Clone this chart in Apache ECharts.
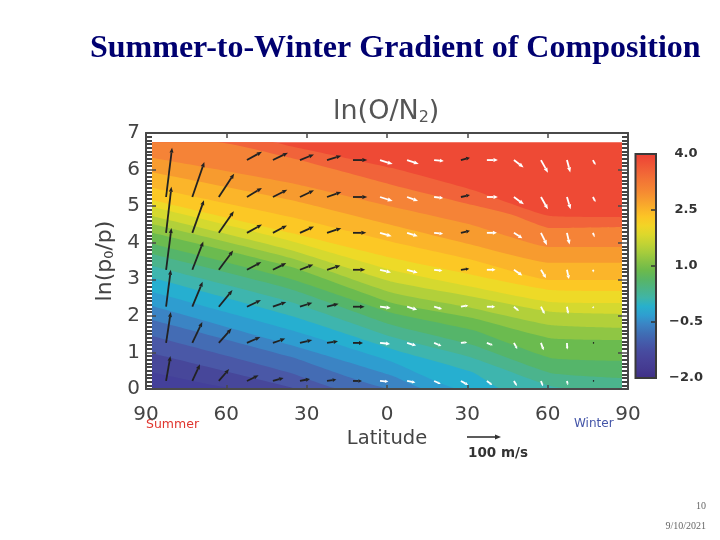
<!DOCTYPE html>
<html><head><meta charset="utf-8">
<style>html,body{margin:0;padding:0;background:#fff}#c{width:720px;height:540px}</style>
<script src="https://cdn.jsdelivr.net/npm/echarts@6/dist/echarts.min.js"></script>
</head><body><div id="c"></div>
<script>
// Filled-contour boundaries: [latitude (summer negative), ln(p0/p)], top band to lowest band
const c00=[[-88,6.75],[-42.6,6.75],[-36,6.64],[2,6.04],[32,5.44],[61,4.73],[88,4.70]];
const c01=[[-88,6.75],[-63.5,6.75],[-36,6.32],[2,5.58],[32,5.03],[47,4.76],[61,4.40],[88,4.43]];
const c02=[[-88,6.32],[-36,5.63],[2,4.98],[32,4.48],[61,3.88],[88,3.88]];
const c03=[[-88,5.93],[-36,5.17],[2,4.48],[32,3.94],[61,3.45],[88,3.45]];
const c04=[[-88,5.50],[-36,4.70],[2,4.02],[32,3.53],[61,2.98],[88,2.98]];
const c05=[[-88,5.17],[-36,4.27],[2,3.58],[32,3.12],[61,2.71],[88,2.68]];
const c06=[[-88,4.98],[-36,4.05],[2,3.25],[32,2.79],[61,2.38],[88,2.35]];
const c07=[[-88,4.73],[-36,3.80],[2,2.93],[32,2.52],[61,2.11],[88,2.05]];
const c08=[[-88,4.51],[-36,3.58],[2,2.63],[32,2.21],[61,1.75],[88,1.67]];
const c09=[[-88,4.27],[-36,3.34],[2,2.35],[32,1.94],[61,1.39],[88,1.34]];
const c10=[[-88,3.97],[-36,3.01],[2,2.08],[32,1.61],[61,0.85],[88,0.77]];
const c11=[[-88,3.69],[-36,2.73],[2,1.75],[32,1.20],[61,0.44],[88,0.30]];
const c12=[[-88,3.36],[-36,2.38],[2,1.42],[32,0.85],[61,0.08],[70,0],[88,0]];
const c13=[[-88,3.04],[-36,2.00],[2,1.09],[32,0.46],[43,0],[88,0]];
const c14=[[-88,2.65],[-36,1.61],[2,0.74],[27,0],[88,0]];
const c15=[[-88,2.27],[-36,1.20],[2,0.36],[14,0],[88,0]];
const c16=[[-88,1.89],[-36,0.88],[2,0],[88,0]];
const c17=[[-88,1.45],[-36,0.44],[-17.5,0],[88,0]];
const c18=[[-88,0.98],[-36,0.05],[-34,0],[88,0]];
const c19=[[-88,0.46],[-55,0],[88,0]];
const contours=[c00,c01,c02,c03,c04,c05,c06,c07,c08,c09,c10,c11,c12,c13,c14,c15,c16,c17,c18,c19];
const bandColors=['#ee4a35','#f1633a','#f58337','#f79b2f','#fbb52a','#fcc825','#eeda27','#d5d92f','#b2d03a','#8fc644','#6bbb4f','#55b56a','#4bb48d','#3eb5ae','#26afd0','#2e9dd0','#3b84c4','#446cb4','#4a58a7','#47479a','#44409a'];
const colorbarColors=['#ed4035','#ef5236','#f16437','#f37635','#f58633','#f79a2f','#fab02a','#fcc525','#f2d426','#dcd82c','#c2d334','#a6cc3c','#88c244','#6cba4c','#58b566','#4cb485','#40b5a5','#28b0cc','#2f9ed0','#3b84c4','#3f6fb5','#445cab','#474ca0','#474298','#443a90','#3f2f86'];

// Wind vectors: tail latitude per column, tail ln(p0/p) per row; u,v in m/s-scale units
const tailLat=[-82.5,-72.7,-62.8,-52.3,-42.6,-32.5,-22.4,-12.7,-2.6,7.5,17.6,27.6,37.3,47.4,57.5,67.2,76.9];
const tailLn=[6.26,5.25,4.27,3.26,2.25,1.26,0.22];
const arrowU=[
[null,18,16,16,14,14,13],[null,36,35,33,31,30,23],[null,46,45,43,41,38,31],[45,45,45,43,42,40,35],
[45,43,42,40,40,37,32],[42,42,42,40,37,37,30],[43,43,43,40,35,33,28],[43,43,40,37,35,30,27],
[38,38,35,33,32,30,25],[35,33,32,32,30,27,25],[29,27,27,25,24,22,20],[27,27,27,25,22,19,22],
[33,33,30,26,25,18,16],[29,30,25,25,15,10,9],[21,21,18,15,11,8,6],[10,11,8,6,4,1,3],[8,8,5,3,3,5,5]];
const arrowV=[
[null,148,138,125,111,93,75],[null,105,98,85,75,63,50],[null,70,65,58,50,43,36],[25,27,25,23,20,18,17],
[22,22,22,20,14,13,9],[17,20,19,16,12,9,6],[13,15,14,13,9,5,4],[0,0,0,0,0,0,0],
[-12,-12,-10,-8,-4,-3,-2],[-12,-12,-10,-9,-9,-8,-5],[-3,-3,-3,-3,-7,-9,-9],[7,6,6,3,4,2,-12],
[0,0,0,0,0,-7,-12],[-22,-22,-16,-17,-13,-18,-15],[-38,-37,-37,-25,-22,-22,-16],[-37,-37,-35,-28,-22,-20,-13],[-15,-15,-13,-8,-5,0,0]];
// per column, top row to bottom row: k = dark arrow, w = white arrow
const arrowShade=['kkkkkkk','kkkkkkk','kkkkkkk','kkkkkkk','kkkkkkk','kkkkkkk','kkkkkkk','kkkkkkk','wwwwwww','wwwwwww','wwwwwww','kkkkwww','wwwwwww','wwwwwww','wwwwwww','wwwwwww','wwwwwkk'];

const titleMain='Summer-to-Winter Gradient of Composition';

const PXPERUNIT=1/3; // drawn length of one vector unit
const arrowData=[];
tailLat.forEach((lat,i)=>tailLn.forEach((ln,j)=>{
  if(arrowU[i][j]!==null)arrowData.push([lat,ln,arrowU[i][j],arrowV[i][j],arrowShade[i][j]==='w'?1:0]);
}));

const chart=echarts.init(document.getElementById('c'),null,{renderer:'canvas'});
const areaSeries=[{type:'line',data:[[-87.75,6.75],[87.75,6.75]],symbol:'none',lineStyle:{opacity:0},areaStyle:{color:bandColors[0],opacity:1,origin:'start'},z:2,silent:true,animation:false}];
contours.forEach((c,i)=>areaSeries.push({type:'line',data:c.map(p=>[Math.max(-87.75,Math.min(87.75,p[0])),p[1]]),symbol:'none',smooth:0.15,lineStyle:{opacity:0},areaStyle:{color:bandColors[i+1],opacity:1,origin:'start'},z:2,silent:true,animation:false}));

const axisCol='#4a4a4a';
const labelFont='DejaVu Sans';
const option={
 animation:false,backgroundColor:'#fff',
 grid:[{left:146,top:133,width:482,height:256},{left:635.5,top:154,width:20.5,height:224,show:true,borderColor:'#3a3a3a',borderWidth:2,backgroundColor:'transparent',z:10}],
 xAxis:[
  {type:'value',gridIndex:0,min:-90,max:90,interval:30,position:'bottom',z:6,
   axisLine:{show:true,onZero:false,lineStyle:{color:axisCol,width:2}},axisTick:{show:true,inside:true,length:4,lineStyle:{color:axisCol,width:1.5}},splitLine:{show:false},
   axisLabel:{margin:16,fontFamily:labelFont,fontSize:20,color:'#444',formatter:v=>String(Math.abs(v))},
   name:'Latitude',nameLocation:'middle',nameGap:40,nameTextStyle:{fontFamily:labelFont,fontSize:19.5,color:'#444'}},
  {type:'value',gridIndex:0,min:-90,max:90,interval:30,position:'top',z:6,
   axisLine:{show:true,onZero:false,lineStyle:{color:axisCol,width:2}},axisTick:{show:true,inside:true,length:5,lineStyle:{color:axisCol,width:1.5}},axisLabel:{show:false},splitLine:{show:false}},
  {type:'value',gridIndex:1,min:0,max:1,show:false}],
 yAxis:[
  {type:'value',gridIndex:0,min:0,max:7,interval:1,position:'left',z:6,
   axisLine:{show:true,onZero:false,lineStyle:{color:axisCol,width:2}},axisTick:{show:true,inside:true,length:10,lineStyle:{color:axisCol,width:1.5}},minorTick:{show:true,splitNumber:10,length:6,lineStyle:{color:'#444',width:2}},splitLine:{show:false},
   axisLabel:{margin:6,fontFamily:labelFont,fontSize:20,color:'#444'},
   name:'ln(p{s|0}/p)',nameLocation:'middle',nameRotate:90,nameGap:30,nameTextStyle:{fontFamily:labelFont,fontSize:22,color:'#444',rich:{s:{fontFamily:labelFont,fontSize:13,color:'#444',padding:[9,0,0,0]}}}},
  {type:'value',gridIndex:0,min:0,max:7,interval:1,position:'right',z:6,
   axisLine:{show:true,onZero:false,lineStyle:{color:axisCol,width:2}},axisTick:{show:true,inside:true,length:10,lineStyle:{color:axisCol,width:1.5}},minorTick:{show:true,splitNumber:10,length:6,lineStyle:{color:'#444',width:2}},axisLabel:{show:false},splitLine:{show:false}},
  {type:'value',gridIndex:1,min:-2,max:4,interval:1.5,position:'right',z:6,
   axisLine:{show:true,onZero:false,lineStyle:{color:'#3a3a3a',width:2}},axisTick:{show:true,inside:true,length:5,lineStyle:{color:'#333',width:1.5}},splitLine:{show:false},
   axisLabel:{margin:30,align:'center',fontFamily:labelFont,fontWeight:'bold',fontSize:13,color:'#333',formatter:v=>(v<0?'\u2212':'')+Math.abs(v).toFixed(1)}}],
 series:[...areaSeries,
  {type:'custom',xAxisIndex:0,yAxisIndex:0,data:arrowData,z:5,silent:true,
   renderItem(params,api){
     const t=api.coord([api.value(0),api.value(1)]);
     const dx=api.value(2)*PXPERUNIT,dy=-api.value(3)*PXPERUNIT;
     const col=api.value(4)?'#ffffff':'#222222';
     const len=Math.hypot(dx,dy);
     if(len<0.1)return;
     const ux=dx/len,uy=dy/len,h=Math.min(5,len*0.4),w=Math.min(2,len*0.2);
     const tip=[t[0]+dx,t[1]+dy],base=[tip[0]-ux*h,tip[1]-uy*h];
     return {type:'group',children:[
       {type:'line',shape:{x1:t[0],y1:t[1],x2:base[0],y2:base[1]},style:{stroke:col,lineWidth:1.8}},
       {type:'polygon',shape:{points:[tip,[base[0]-uy*w,base[1]+ux*w],[base[0]+uy*w,base[1]-ux*w]]},style:{fill:col}}]};
   }},
  {type:'custom',xAxisIndex:2,yAxisIndex:2,data:[[0]],z:3,silent:true,
   renderItem(params,api){
     const n=colorbarColors.length;
     const a=api.coord([0,4]),b=api.coord([1,-2]);
     return {type:'rect',shape:{x:a[0],y:a[1],width:b[0]-a[0],height:b[1]-a[1]},
       style:{fill:{type:'linear',x:0,y:0,x2:0,y2:1,colorStops:colorbarColors.map((c,i)=>({offset:i/(n-1),color:c}))}}};
   }}
 ],
 graphic:[
  {type:'text',left:90,top:33,style:{text:titleMain,font:'bold 32px "Liberation Serif"',fill:'#000070'}},
  {type:'text',left:333,top:98,style:{text:'ln(O/N{s|2})',font:'27px "DejaVu Sans"',fill:'#555',rich:{s:{font:'16px "DejaVu Sans"',fill:'#555',padding:[12,0,0,0]}}}},
  {type:'text',left:146,top:418,style:{text:'Summer',font:'12.5px "DejaVu Sans"',fill:'#e0352e'}},
  {type:'text',left:574,top:418,style:{text:'Winter',font:'12px "DejaVu Sans"',fill:'#4455a8'}},
  {type:'line',shape:{x1:467,y1:437,x2:497,y2:437},style:{stroke:'#333',lineWidth:1.6}},
  {type:'polygon',shape:{points:[[501,437],[495,434.5],[495,439.5]]},style:{fill:'#333'}},
  {type:'text',left:468,top:446,style:{text:'100 m/s',font:'bold 13.5px "DejaVu Sans"',fill:'#333'}},
  {type:'text',right:14,top:501,style:{text:'10',font:'10px "Liberation Serif"',fill:'#666'}},
  {type:'text',right:14,top:521,style:{text:'9/10/2021',font:'10px "Liberation Serif"',fill:'#666'}}
 ]
};
chart.setOption(option);
</script></body></html>
